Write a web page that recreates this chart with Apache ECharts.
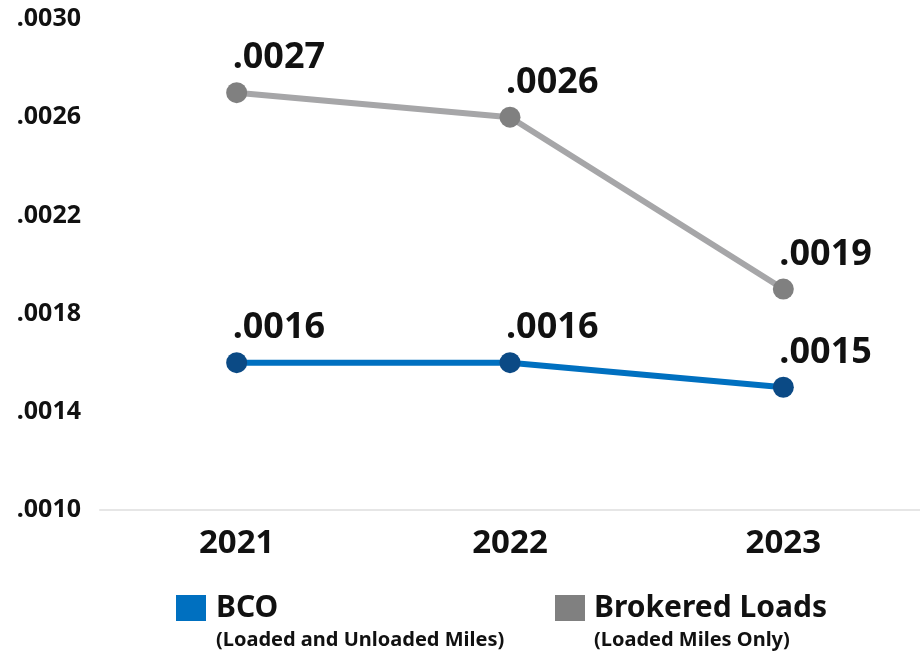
<!DOCTYPE html>
<html>
<head>
<meta charset="utf-8">
<script src="https://cdn.jsdelivr.net/npm/echarts@6/dist/echarts.min.js"></script>
<style>
  html, body { margin: 0; padding: 0; background: #fff; }
  #chart { width: 920px; height: 652px; }
</style>
</head>
<body>
<div id="chart"></div>
<script>
// data
var years = ['2021', '2022', '2023'];
var bco = [0.0016, 0.0016, 0.0015];
var brokered = [0.0027, 0.0026, 0.0019];
var seriesNames = ['BCO', 'Brokered Loads'];
var subNames = ['(Loaded and Unloaded Miles)', '(Loaded Miles Only)'];

var FONT = 'Noto Sans';

// .0027 style
function fmt(v){
    var n = Math.round(v * 10000);
    return '.' + String(n).padStart(4, '0');
}

function draw_chart(){
    var myChart = echarts.init(document.getElementById('chart'));

    var pointLabel = {
        show: true,
        position: 'top',
        align: 'left',
        distance: 6,
        offset: [-4, 0],
        color: '#111',
        fontFamily: FONT,
        fontWeight: 'bold',
        fontSize: 36,
        formatter: function(p){ return fmt(p.value); }
    };

    var option = {
        animation: false,
        backgroundColor: '#fff',
        grid: { left: 100, right: 0, top: 19, bottom: 142 },
        xAxis: {
            type: 'category',
            data: years,
            axisLine: { lineStyle: { color: '#e6e6e6', width: 2 } },
            axisTick: { show: false },
            axisLabel: {
                margin: 17,
                color: '#111',
                fontFamily: FONT,
                fontWeight: 'bold',
                fontSize: 33
            }
        },
        yAxis: {
            type: 'value',
            min: 0.0010,
            max: 0.0030,
            interval: 0.0002,   // only every other tick gets a label
            splitLine: { show: false },
            axisLine: { show: false },
            axisTick: { show: false },
            axisLabel: {
                margin: 19,
                color: '#111',
                fontFamily: FONT,
                fontWeight: 'bold',
                fontSize: 25,
                formatter: function(v){
                    var n = Math.round(v * 10000);
                    return (n - 10) % 4 === 0 ? fmt(v) : '';
                }
            }
        },
        legend: [
            {
                data: [{ name: seriesNames[0], itemStyle: { color: '#0070c0' } }],
                left: 176, top: 593, padding: 0,
                itemWidth: 30, itemHeight: 26,
                icon: 'rect',
                textStyle: { color: '#111', fontFamily: FONT, fontWeight: 'bold', fontSize: 30, padding: [0, 0, 0, 5] }
            },
            {
                data: [{ name: seriesNames[1], itemStyle: { color: '#808080' } }],
                left: 555, top: 593, padding: 0,
                itemWidth: 30, itemHeight: 26,
                icon: 'rect',
                textStyle: { color: '#111', fontFamily: FONT, fontWeight: 'bold', fontSize: 30, padding: [0, 0, 0, 4] }
            }
        ],
        graphic: [
            { type: 'text', left: 216, top: 630, style: { text: subNames[0], fill: '#111', font: 'bold 20px "Noto Sans"' } },
            { type: 'text', left: 594, top: 630, style: { text: subNames[1], fill: '#111', font: 'bold 20px "Noto Sans"' } }
        ],
        series: [
            {
                name: seriesNames[1],
                type: 'line',
                data: brokered,
                symbol: 'circle',
                symbolSize: 21,
                color: '#808080',
                lineStyle: { color: '#a6a6a8', width: 6 },
                itemStyle: { color: '#808080' },
                label: pointLabel
            },
            {
                name: seriesNames[0],
                type: 'line',
                data: bco,
                symbol: 'circle',
                symbolSize: 21,
                color: '#0070c0',
                lineStyle: { color: '#0070c0', width: 6 },
                itemStyle: { color: '#0b4a85' },
                label: pointLabel
            }
        ]
    };

    myChart.setOption(option);
}

draw_chart();
</script>
</body>
</html>
